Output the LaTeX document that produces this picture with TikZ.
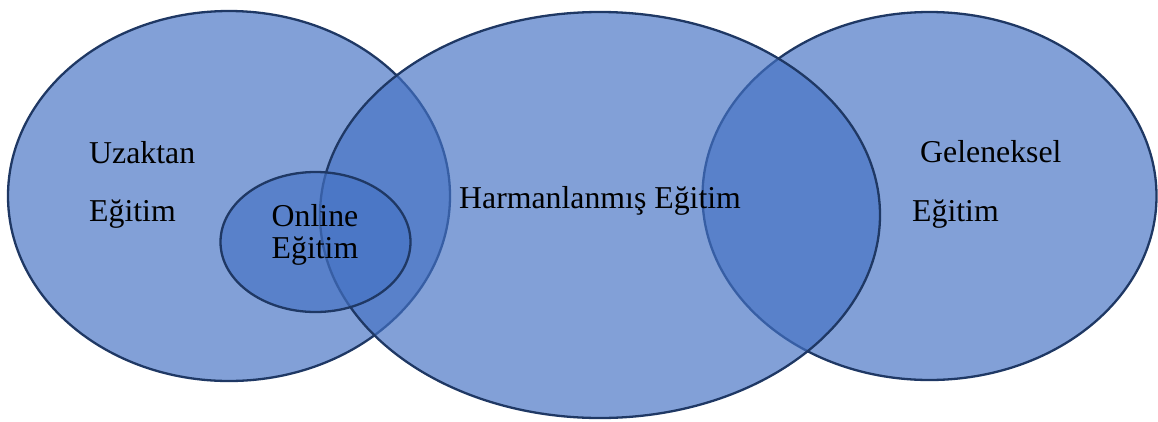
\documentclass[tikz,border=0pt]{standalone}
\usepackage{fontspec}
\setmainfont{Liberation Serif}
\definecolor{setfill}{HTML}{4472C4}
\definecolor{setline}{HTML}{1F3864}
\begin{document}
\begin{tikzpicture}[x=1pt,y=-1pt,
  setshape/.style={fill=setfill,fill opacity=0.67,draw=setline,line width=2.3pt},
  lbl/.style={inner sep=0pt,anchor=base west,font=\fontsize{31.8}{35}\selectfont,text=black}]
\useasboundingbox (0,0) rectangle (1158,421);
\path[setshape] (229,196) ellipse [x radius=221,y radius=185];
\path[setshape] (929.5,196) ellipse [x radius=227,y radius=184];
\path[setshape] (600,215) ellipse [x radius=280,y radius=203];
\path[setshape] (315.5,242) ellipse [x radius=95,y radius=70];
\node[lbl] (uz) at (89,163) {Uzaktan};
\node[lbl] (uze) at (89,221) {Eğitim};
\node[lbl,anchor=base] (on) at (315,226) {Online};
\node[lbl,anchor=base] (one) at (315,258) {Eğitim};
\node[lbl] (har) at (459,208) {Harmanlanmış Eğitim};
\node[lbl] (gel) at (920,162) {Geleneksel};
\node[lbl] (gele) at (912,221) {Eğitim};
\end{tikzpicture}
\end{document}
